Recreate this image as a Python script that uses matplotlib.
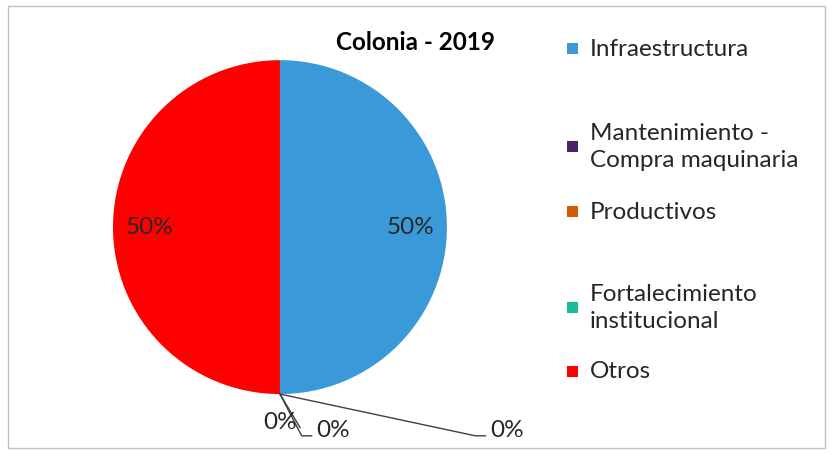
import numpy as np
import matplotlib.pyplot as plt
from matplotlib.patches import Rectangle

plt.rcParams['font.family'] = ['Lato', 'DejaVu Sans']

# datos del grafico
categorias = ['Infraestructura', 'Mantenimiento -\nCompra maquinaria', 'Productivos',
              'Fortalecimiento\ninstitucional', 'Otros']
valores = [50, 0, 0, 0, 50]
colores = ['#3A9AD9', '#4B2466', '#D55A00', '#1ABC9C', '#FF0000']
titulo = 'Colonia - 2019'

fig = plt.figure(figsize=(8.32, 4.54), dpi=100)

# marco exterior
fig.patches.append(Rectangle((8 / 832, 6 / 454), 817 / 832, 442 / 454, transform=fig.transFigure,
                             fill=False, edgecolor='#BFBFBF', linewidth=1))

ax = fig.add_axes([0.0756, 0.0033, 0.582, 0.901])
wedges, textos = ax.pie(valores, colors=colores, startangle=90, counterclock=False,
                        wedgeprops=dict(linewidth=0))
ax.set_xlim(-1.3, 1.6)
ax.set_ylim(-1.35, 1.1)
ax.set_aspect('auto')
ax.axis('off')

# etiquetas de porcentaje
total = sum(valores)
for w, v in zip(wedges, valores):
    if v == 0:
        continue
    ang = np.deg2rad((w.theta1 + w.theta2) / 2)
    ax.text(0.78 * np.cos(ang), 0.78 * np.sin(ang), f'{v / total:.0%}', ha='center', va='center',
            fontsize=17.5, color='#262626')

# etiquetas 0% con lineas guia
guias = [((0.0, -1.0), None, (-0.01, -1.17), 'right'),
         ((0.0, -1.0), (0.13, -1.25), (0.22, -1.22), 'left'),
         ((0.0, -1.0), (1.17, -1.25), (1.26, -1.22), 'left')]
ceros = [v for v in valores if v == 0]
for (p0, p1, pt, ha), v in zip(guias, ceros):
    if p1 is not None:
        ax.plot([p0[0], p1[0], p1[0] + 0.06], [p0[1], p1[1], p1[1]], color='#404040', lw=1)
        ax.text(pt[0], pt[1], f'{v / total:.0%}', ha=ha, va='center', fontsize=17.5, color='#262626')
    else:
        ax.plot([p0[0], 0.12], [p0[1], -1.2], color='#404040', lw=1)
        ax.text(0.0, pt[1], f'{v / total:.0%}', ha='center', va='center', fontsize=17.5, color='#262626')

fig.text(416 / 832, 1 - 42 / 454, titulo, ha='center', va='center', fontsize=17.5,
         fontweight='bold', color='black')

# leyenda manual
ys = [49, 147, 212, 308, 372]
for y, cat, col in zip(ys, categorias, colores):
    fig.patches.append(Rectangle((567 / 832, 1 - (y + 5) / 454), 11 / 832, 11 / 454,
                                 transform=fig.transFigure, facecolor=col, edgecolor='none'))
    fig.text(590 / 832, 1 - y / 454, cat, ha='left', va='center', fontsize=17.5,
             color='#262626', linespacing=1.4)

fig.savefig('out.png', dpi=100)
